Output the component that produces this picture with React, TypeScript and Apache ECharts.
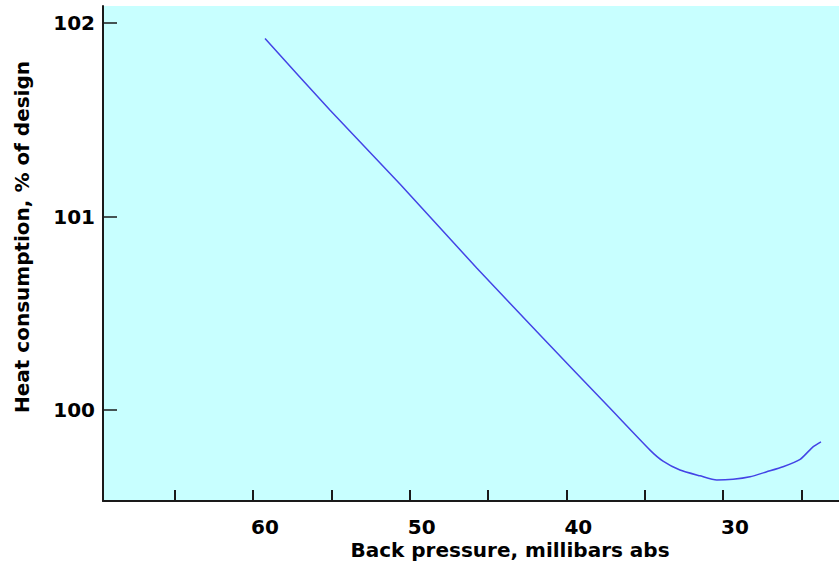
import React, { useEffect, useRef } from "react";
import * as echarts from "echarts";

// Back pressure (millibars abs) and heat consumption (% of design)
const pressure = [59.23, 55.09, 50.62, 45.72, 41.68, 37.21, 34.66, 33.83, 32.75, 31.47, 30.4, 29.36, 28.28, 27.21, 26.17, 25.08, 24.26, 23.75];
const heat = [101.92, 101.55, 101.168, 100.734, 100.388, 100.009, 99.793, 99.736, 99.69, 99.66, 99.638, 99.642, 99.655, 99.681, 99.707, 99.745, 99.81, 99.836];

const xTicks = [25, 30, 35, 40, 45, 50, 55, 60, 65];
const xLabels = [30, 40, 50, 60];
const yTicks = [100, 101, 102];

const xTitle = "Back pressure, millibars abs";
const yTitle = "Heat consumption, % of design";

const FONT = '"DejaVu Sans", "Liberation Sans", sans-serif';

export default function App() {
  const ref = useRef<HTMLDivElement>(null);
  useEffect(() => {
    if (!ref.current) return;
    const chart = echarts.init(ref.current, null, { renderer: "svg" });
    const labelStyle = {
      fontFamily: FONT,
      fontWeight: "bold" as const,
      fontSize: 20,
      color: "#000",
    };
    chart.setOption({
      animation: false,
      backgroundColor: "#ffffff",
      grid: {
        left: 103,
        right: 0,
        top: 6,
        bottom: 75,
        show: true,
        backgroundColor: "#c8ffff",
        borderWidth: 0,
        outerBoundsMode: "none",
      },
      xAxis: {
        type: "value",
        inverse: true,
        min: 22.6,
        max: 69.57,
        splitLine: { show: false },
        axisLine: { show: true, lineStyle: { color: "#1a1a1a", width: 2 } },
        axisTick: {
          show: true,
          inside: true,
          length: 11,
          customValues: xTicks,
          lineStyle: { color: "#1a1a1a", width: 2 },
        },
        axisLabel: {
          ...labelStyle,
          margin: 16,
          padding: [0, 0, 0, 24],
          customValues: xLabels,
        },
      },
      yAxis: {
        type: "value",
        min: 99.53,
        max: 102.088,
        splitLine: { show: false },
        axisLine: { show: true, lineStyle: { color: "#1a1a1a", width: 2 } },
        axisTick: {
          show: true,
          inside: true,
          length: 14,
          customValues: yTicks,
          lineStyle: { color: "#1a1a1a", width: 1.5 },
        },
        axisLabel: {
          ...labelStyle,
          margin: 8,
          customValues: yTicks,
        },
      },
      graphic: [
        {
          type: "text",
          x: 510,
          y: 550,
          style: {
            text: xTitle,
            font: `bold 20px ${FONT}`,
            fill: "#000",
            textAlign: "center",
            textVerticalAlign: "middle",
          },
        },
        {
          type: "text",
          x: 22,
          y: 237,
          rotation: Math.PI / 2,
          style: {
            text: yTitle,
            font: `bold 20px ${FONT}`,
            fill: "#000",
            textAlign: "center",
            textVerticalAlign: "middle",
          },
        },
      ],
      series: [
        {
          type: "line",
          data: pressure.map((p, i) => [p, heat[i]]),
          showSymbol: false,
          smooth: 0.2,
          lineStyle: { color: "#4444e6", width: 1.5 },
        },
      ],
    });
    return () => chart.dispose();
  }, []);
  return (
    <div
      ref={ref}
      style={{ position: "fixed", left: 0, top: 0, width: 839, height: 576 }}
    />
  );
}
